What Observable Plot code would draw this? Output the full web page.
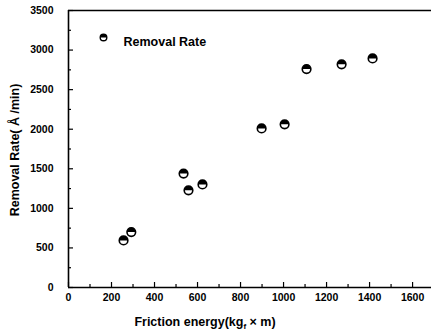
<!DOCTYPE html>
<html><head><meta charset="utf-8">
<script src="https://cdn.jsdelivr.net/npm/d3@7"></script>
<script src="https://cdn.jsdelivr.net/npm/@observablehq/plot@0.6"></script>
<style>
body{margin:0;background:#fff;}
svg{font-family:"Liberation Sans",Arial,sans-serif;}
</style>
</head><body><div id="chart"></div>
<script>
const frictionEnergy = [256, 292, 535, 558, 623, 898, 1005, 1107, 1270, 1414];
const removalRate = [595, 700, 1440, 1228, 1302, 2010, 2062, 2760, 2820, 2895];
const xTicks = [0, 200, 400, 600, 800, 1000, 1200, 1400, 1600];
const xMinor = [100, 300, 500, 700, 900, 1100, 1300, 1500];
const yTicks = [0, 500, 1000, 1500, 2000, 2500, 3000, 3500];
const yMinor = [250, 750, 1250, 1750, 2250, 2750, 3250];
const seriesName = "Removal Rate";
const xLabel = "Friction energy(kg";
const yLabel = "Removal Rate( Å /min)";

const data = frictionEnergy.map((x, i) => ({x, y: removalRate[i]}));

const halfTop = {draw(ctx, size){ const r = Math.sqrt(size/Math.PI); ctx.moveTo(r,0); ctx.arc(0,0,r,0,Math.PI,true); ctx.closePath(); }};

const W = 431, H = 333, mL = 68, mT = 10, mB = 46, mR = 0;
const pw = W - mL - mR, ph = H - mT - mB;

const chart = Plot.plot({
  width: W, height: H,
  marginLeft: mL, marginTop: mT, marginBottom: mB, marginRight: mR,
  x: {domain: [0, 1688], ticks: xTicks, label: null},
  y: {domain: [0, 3500], ticks: yTicks, label: null},
  style: {fontSize: "10px", fontWeight: "bold", color: "#000", background: "#fff"},
  marks: [
    Plot.axisX(xTicks, {tickSize: 0, tickPadding: 6, fontSize: 10.5, fontWeight: "bold", tickFormat: d3.format("d")}),
    Plot.axisY(yTicks, {tickSize: 0, tickPadding: 15, fontSize: 10.5, fontWeight: "bold", tickFormat: d3.format("d")}),
    Plot.ruleY([0], {stroke: "#000", strokeWidth: 1.4}),
    Plot.ruleY([3500], {stroke: "#000", strokeWidth: 1.4}),
    Plot.ruleX([0], {stroke: "#000", strokeWidth: 1.6}),
    Plot.tickX(xTicks, {x: d => d, insetTop: ph - 5, stroke: "#000", strokeWidth: 1.2}),
    Plot.tickX(xMinor, {x: d => d, insetTop: ph - 3, stroke: "#000", strokeWidth: 1.2}),
    Plot.tickY(yTicks, {y: d => d, insetRight: pw - 5, stroke: "#000", strokeWidth: 1.2}),
    Plot.tickY(yMinor, {y: d => d, insetRight: pw - 3, stroke: "#000", strokeWidth: 1.2}),
    Plot.dot(data, {x: "x", y: "y", r: 4.3, fill: "#fff", stroke: "#000", strokeWidth: 1.6}),
    Plot.dot(data, {x: "x", y: "y", r: 4.3, symbol: halfTop, fill: "#000", stroke: "none"}),
    Plot.dot([seriesName], {frameAnchor: "top-left", dx: 35, dy: 27, r: 3.3, fill: "#fff", stroke: "#000", strokeWidth: 1.4}),
    Plot.dot([seriesName], {frameAnchor: "top-left", dx: 35, dy: 27, r: 3.3, symbol: halfTop, fill: "#000"}),
    Plot.text([seriesName], {text: d => d, frameAnchor: "top-left", dx: 55, dy: 27, textAnchor: "start", fontSize: 12.5, fontWeight: "bold"})
  ]
});

const svg = d3.select(chart);
const xl = svg.append("text").attr("x", 205).attr("y", 326).attr("text-anchor", "middle")
  .attr("font-size", 12.5).attr("font-weight", "bold").attr("fill", "#000");
xl.append("tspan").text(xLabel);
xl.append("tspan").attr("font-size", 8).attr("dy", 3).text("f");
xl.append("tspan").attr("dy", -3).text(" × m)");
svg.append("text").attr("transform", "translate(19,150) rotate(-90)").attr("text-anchor", "middle")
  .attr("font-size", 12.5).attr("font-weight", "bold").attr("fill", "#000").text(yLabel);

document.getElementById("chart").appendChild(chart);
</script>
</body></html>
